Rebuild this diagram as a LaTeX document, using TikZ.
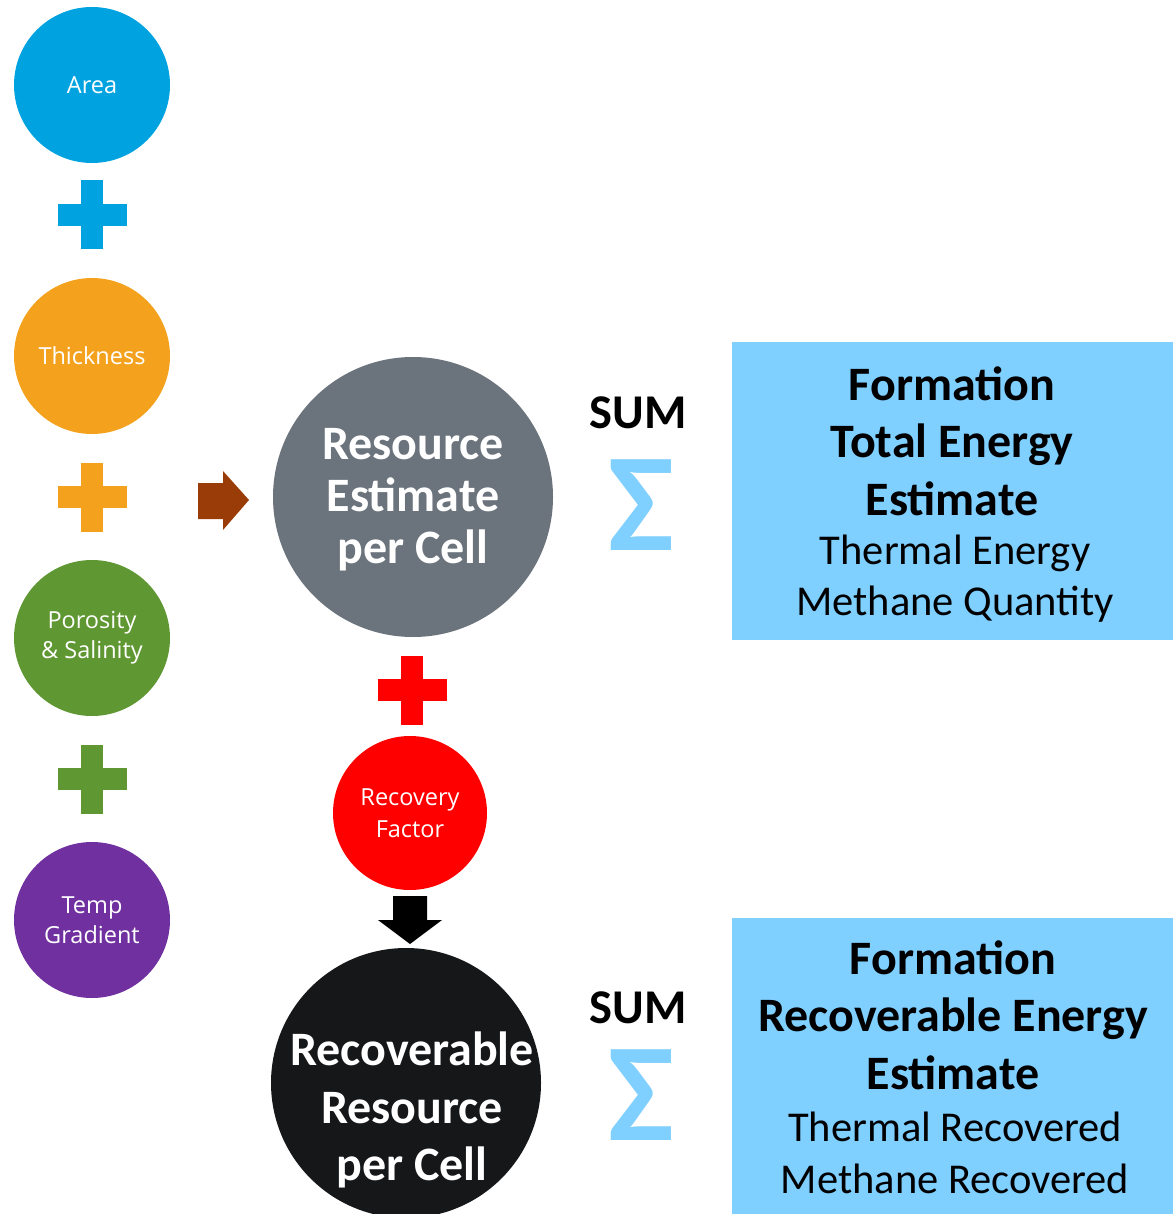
\documentclass[tikz,border=0pt]{standalone}
\usepackage{fontspec}
\setmainfont{Carlito}
\newfontfamily\labelfont{Open Sans}
\definecolor{areablue}{RGB}{0,163,224}
\definecolor{thickorange}{RGB}{244,162,30}
\definecolor{porogreen}{RGB}{95,151,50}
\definecolor{temppurple}{RGB}{112,48,160}
\definecolor{cellgray}{RGB}{107,115,124}
\definecolor{cellblack}{RGB}{22,23,25}
\definecolor{arrowbrown}{RGB}{153,60,8}
\definecolor{sumblue}{RGB}{127,207,255}
\tikzset{
  plussign/.pic={
    \fill[#1] (-34.5,-11) rectangle (34.5,11);
    \fill[#1] (-11,-34.5) rectangle (11,34.5);
  },
  bigtext/.style={text=white,align=center,font=\bfseries\fontsize{48}{55}\selectfont},
  sumbox/.style={rectangle,fill=sumblue,inner sep=0pt,minimum width=441pt},
  sumlabel/.style={font=\bfseries\fontsize{48.5}{48}\selectfont},
  sigma/.style={text=sumblue,inner sep=0pt,font=\bfseries\fontsize{140}{140}\selectfont}
}
\begin{document}
\begin{tikzpicture}[x=1pt,y=-1pt]
        \useasboundingbox (0,0) rectangle (1173,1214);
        % inputs
        \begin{scope}[every node/.style={circle,inner sep=0pt,minimum size=156pt,text=white,align=center,font=\labelfont\fontsize{23.5}{30}\selectfont}]
        \node[fill=areablue] (area) at (92,85) {Area};
        \node[fill=thickorange] (thick) at (92,356) {Thickness};
        \node[fill=porogreen] (poro) at (92,638) {Porosity\\\& Salinity};
        \node[fill=temppurple] (temp) at (92,920) {Temp\\Gradient};
        \end{scope}
        \pic at (92,215) {plussign=areablue};
        \pic at (92,497) {plussign=thickorange};
        \pic at (92,779) {plussign=porogreen};
        \pic at (412,690) {plussign=red};
        % cells
        \node[circle,fill=cellgray,minimum size=280pt,inner sep=0pt] (cell) at (413,497) {};
        \node[bigtext,font=\bfseries\fontsize{48}{52}\selectfont] (celltext) at (413,500) {Resource\\Estimate\\per Cell};
        \node[circle,fill=red,minimum size=154pt,inner sep=0pt,text=white,align=center,font=\labelfont\fontsize{23.5}{32}\selectfont] (recov) at (410,813) {Recovery\\Factor};
        \node[circle,fill=cellblack,minimum size=270pt,inner sep=0pt] (reccell) at (406,1083) {};
        \node[bigtext,font=\bfseries\fontsize{48}{57.5}\selectfont] (reccelltext) at (412,1110) {Recoverable\\Resource\\per Cell};
        % block arrows
        \fill[arrowbrown] (198,483) -- (223,483) -- (223,471) -- (249,500) -- (223,530) -- (223,519) -- (198,519) -- cycle;
        \fill[black] (393,896) -- (427,896) -- (427,920) -- (442,920) -- (410,944) -- (378,920) -- (393,920) -- cycle;
        % sums
        \node[sumlabel] (sum1) at (638,413) {SUM};
        \node[sigma] (sig1) at (641,505) {Σ};
        \node[sumlabel] (sum2) at (638,1008) {SUM};
        \node[sigma] (sig2) at (641,1095) {Σ};
        % totals
        \node[sumbox,minimum height=298pt] (totbox) at (952.5,491) {};
        \node[align=center,font=\bfseries\fontsize{48}{57.5}\selectfont] (tottitle) at (952,441) {Formation\\Total Energy\\Estimate};
        \node[align=center,font=\fontsize{42.5}{51}\selectfont] (totlist) at (955,579) {Thermal Energy\\Methane Quantity};
        \node[sumbox,minimum height=296pt] (recbox) at (952.5,1066) {};
        \node[align=center,font=\bfseries\fontsize{48}{57.5}\selectfont] (rectitle) at (953,1015) {Formation\\Recoverable Energy\\Estimate};
        \node[align=center,font=\fontsize{42.5}{52}\selectfont] (reclist) at (955,1153) {Thermal Recovered\\Methane Recovered};
        \end{tikzpicture}
\end{document}
